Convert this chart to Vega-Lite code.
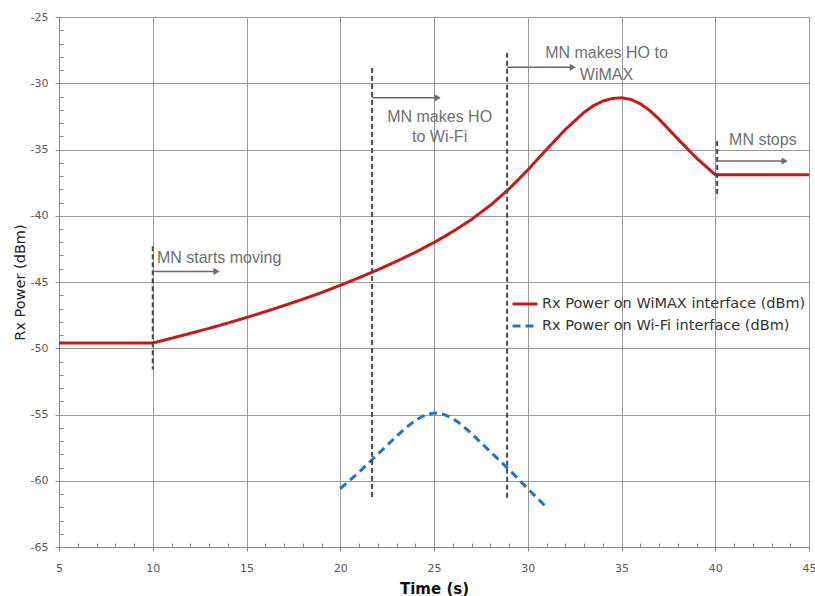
{
  "$schema": "https://vega.github.io/schema/vega-lite/v6.json",
  "width": 750,
  "height": 530,
  "autosize": {"type": "none"},
  "padding": {"left": 59, "top": 17, "right": 6, "bottom": 49},
  "background": "white",
  "config": {
    "view": {"stroke": "#999999", "strokeWidth": 1},
    "axis": {
      "domainColor": "#888888",
      "gridColor": "#9a9a9a",
      "tickColor": "#888888",
      "labelColor": "#595959",
      "labelFont": "DejaVu Sans",
      "labelFontSize": 11,
      "titleFont": "DejaVu Sans"
    },
    "legend": {"labelFont": "DejaVu Sans"}
  },
  "datasets": {
    "curves": [
      {"series": "Rx Power on WiMAX interface (dBm)", "t": 5, "v": -49.6},
      {"series": "Rx Power on WiMAX interface (dBm)", "t": 10, "v": -49.6},
      {"series": "Rx Power on WiMAX interface (dBm)", "t": 11, "v": -49.25},
      {"series": "Rx Power on WiMAX interface (dBm)", "t": 12, "v": -48.88},
      {"series": "Rx Power on WiMAX interface (dBm)", "t": 13, "v": -48.5},
      {"series": "Rx Power on WiMAX interface (dBm)", "t": 14, "v": -48.1},
      {"series": "Rx Power on WiMAX interface (dBm)", "t": 15, "v": -47.68},
      {"series": "Rx Power on WiMAX interface (dBm)", "t": 16, "v": -47.24},
      {"series": "Rx Power on WiMAX interface (dBm)", "t": 17, "v": -46.78},
      {"series": "Rx Power on WiMAX interface (dBm)", "t": 18, "v": -46.3},
      {"series": "Rx Power on WiMAX interface (dBm)", "t": 19, "v": -45.8},
      {"series": "Rx Power on WiMAX interface (dBm)", "t": 20, "v": -45.25},
      {"series": "Rx Power on WiMAX interface (dBm)", "t": 21, "v": -44.68},
      {"series": "Rx Power on WiMAX interface (dBm)", "t": 22, "v": -44.08},
      {"series": "Rx Power on WiMAX interface (dBm)", "t": 23, "v": -43.44},
      {"series": "Rx Power on WiMAX interface (dBm)", "t": 24, "v": -42.76},
      {"series": "Rx Power on WiMAX interface (dBm)", "t": 25, "v": -42.02},
      {"series": "Rx Power on WiMAX interface (dBm)", "t": 26, "v": -41.2},
      {"series": "Rx Power on WiMAX interface (dBm)", "t": 27, "v": -40.28},
      {"series": "Rx Power on WiMAX interface (dBm)", "t": 28, "v": -39.22},
      {"series": "Rx Power on WiMAX interface (dBm)", "t": 29, "v": -37.98},
      {"series": "Rx Power on WiMAX interface (dBm)", "t": 30, "v": -36.55},
      {"series": "Rx Power on WiMAX interface (dBm)", "t": 31, "v": -35.0},
      {"series": "Rx Power on WiMAX interface (dBm)", "t": 32, "v": -33.5},
      {"series": "Rx Power on WiMAX interface (dBm)", "t": 33, "v": -32.2},
      {"series": "Rx Power on WiMAX interface (dBm)", "t": 33.5, "v": -31.7},
      {"series": "Rx Power on WiMAX interface (dBm)", "t": 34, "v": -31.35},
      {"series": "Rx Power on WiMAX interface (dBm)", "t": 34.5, "v": -31.15},
      {"series": "Rx Power on WiMAX interface (dBm)", "t": 35, "v": -31.1},
      {"series": "Rx Power on WiMAX interface (dBm)", "t": 35.5, "v": -31.22},
      {"series": "Rx Power on WiMAX interface (dBm)", "t": 36, "v": -31.55},
      {"series": "Rx Power on WiMAX interface (dBm)", "t": 36.5, "v": -32.05},
      {"series": "Rx Power on WiMAX interface (dBm)", "t": 37, "v": -32.7},
      {"series": "Rx Power on WiMAX interface (dBm)", "t": 38, "v": -34.2},
      {"series": "Rx Power on WiMAX interface (dBm)", "t": 39, "v": -35.65},
      {"series": "Rx Power on WiMAX interface (dBm)", "t": 40, "v": -36.9},
      {"series": "Rx Power on WiMAX interface (dBm)", "t": 45, "v": -36.9},
      {"series": "Rx Power on Wi-Fi interface (dBm)", "t": 20, "v": -60.6},
      {"series": "Rx Power on Wi-Fi interface (dBm)", "t": 21, "v": -59.35},
      {"series": "Rx Power on Wi-Fi interface (dBm)", "t": 22, "v": -58.0},
      {"series": "Rx Power on Wi-Fi interface (dBm)", "t": 23, "v": -56.65},
      {"series": "Rx Power on Wi-Fi interface (dBm)", "t": 23.5, "v": -56.0},
      {"series": "Rx Power on Wi-Fi interface (dBm)", "t": 24, "v": -55.45},
      {"series": "Rx Power on Wi-Fi interface (dBm)", "t": 24.5, "v": -55.05},
      {"series": "Rx Power on Wi-Fi interface (dBm)", "t": 25, "v": -54.88},
      {"series": "Rx Power on Wi-Fi interface (dBm)", "t": 25.5, "v": -54.98},
      {"series": "Rx Power on Wi-Fi interface (dBm)", "t": 26, "v": -55.3},
      {"series": "Rx Power on Wi-Fi interface (dBm)", "t": 26.5, "v": -55.8},
      {"series": "Rx Power on Wi-Fi interface (dBm)", "t": 27, "v": -56.45},
      {"series": "Rx Power on Wi-Fi interface (dBm)", "t": 28, "v": -57.8},
      {"series": "Rx Power on Wi-Fi interface (dBm)", "t": 29, "v": -59.15},
      {"series": "Rx Power on Wi-Fi interface (dBm)", "t": 30, "v": -60.6},
      {"series": "Rx Power on Wi-Fi interface (dBm)", "t": 31, "v": -62.0}
    ],
    "vlines": [
      {"t": 10, "v": -42.3, "v2": -51.6},
      {"t": 21.7, "v": -28.85, "v2": -61.3},
      {"t": 28.9, "v": -27.7, "v2": -61.3},
      {"t": 40.1, "v": -34.35, "v2": -38.6}
    ],
    "arrows": [
      {"t": 10, "t2": 13.4, "v": -44.2},
      {"t": 21.7, "t2": 25.2, "v": -31.1},
      {"t": 28.9, "t2": 32.4, "v": -28.8},
      {"t": 40.1, "t2": 43.7, "v": -35.87}
    ],
    "labels": [
      {"t": 10.22, "v": -43.57, "text": "MN starts moving", "a": "left"},
      {"t": 25.3, "v": -32.9, "text": "MN makes HO", "a": "center"},
      {"t": 25.3, "v": -34.4, "text": "to Wi-Fi", "a": "center"},
      {"t": 34.2, "v": -28.1, "text": "MN makes HO to", "a": "center"},
      {"t": 34.2, "v": -29.75, "text": "WiMAX", "a": "center"},
      {"t": 42.54, "v": -34.66, "text": "MN stops", "a": "center"}
    ]
  },
  "encoding": {
    "x": {
      "field": "t",
      "type": "quantitative",
      "scale": {"domain": [5, 45], "nice": false, "zero": false},
      "axis": {
        "title": "Time (s)",
        "titleFontSize": 15,
        "titleFontWeight": "bold",
        "titleColor": "#111111",
        "titlePadding": 8,
        "values": [5,6,7,8,9,10,11,12,13,14,15,16,17,18,19,20,21,22,23,24,25,26,27,28,29,30,31,32,33,34,35,36,37,38,39,40,41,42,43,44,45],
        "labelExpr": "datum.value % 5 === 0 ? toString(datum.value) : ''",
        "labelPadding": 11,
        "gridOpacity": {"condition": {"test": "datum.value % 5 === 0", "value": 1}, "value": 0},
        "tickSize": {"condition": {"test": "datum.value % 5 === 0", "value": 4}, "value": -4},
        "labelFlush": false
      }
    },
    "y": {
      "field": "v",
      "type": "quantitative",
      "scale": {"domain": [-65, -25], "nice": false, "zero": false},
      "axis": {
        "title": "Rx Power (dBm)",
        "titleFontSize": 14.5,
        "titleFontWeight": "normal",
        "titleColor": "#222222",
        "titlePadding": 3,
        "values": [-65,-64,-63,-62,-61,-60,-59,-58,-57,-56,-55,-54,-53,-52,-51,-50,-49,-48,-47,-46,-45,-44,-43,-42,-41,-40,-39,-38,-37,-36,-35,-34,-33,-32,-31,-30,-29,-28,-27,-26,-25],
        "labelExpr": "datum.value % 5 === 0 ? toString(datum.value) : ''",
        "labelPadding": 7,
        "gridOpacity": {"condition": {"test": "datum.value % 5 === 0", "value": 1}, "value": 0},
        "tickSize": {"condition": {"test": "datum.value % 5 === 0", "value": 4}, "value": -4}
      }
    }
  },
  "layer": [
    {
      "data": {"name": "curves"},
      "mark": {"type": "line", "interpolate": "linear", "strokeWidth": 3},
      "encoding": {
        "color": {
          "field": "series",
          "type": "nominal",
          "scale": {
            "domain": ["Rx Power on WiMAX interface (dBm)", "Rx Power on Wi-Fi interface (dBm)"],
            "range": ["#c41a1a", "#1f74c4"]
          },
          "legend": {
            "title": null,
            "orient": "none",
            "legendX": 452,
            "legendY": 273,
            "symbolType": "stroke",
            "symbolSize": 625,
            "symbolStrokeWidth": 3,
            "labelFontSize": 14.5,
            "labelLimit": 0,
            "labelColor": "#333333",
            "labelOffset": 3,
            "rowPadding": 1,
            "padding": 0
          }
        },
        "strokeDash": {
          "field": "series",
          "type": "nominal",
          "scale": {
            "domain": ["Rx Power on WiMAX interface (dBm)", "Rx Power on Wi-Fi interface (dBm)"],
            "range": [[1, 0], [8, 5]]
          },
          "legend": null
        }
      }
    },
    {
      "data": {"name": "vlines"},
      "mark": {"type": "rule", "color": "#4a4a4a", "strokeWidth": 2, "strokeDash": [5, 3]},
      "encoding": {"y2": {"field": "v2"}}
    },
    {
      "data": {"name": "arrows"},
      "mark": {"type": "rule", "color": "#6a6a6a", "strokeWidth": 1.5},
      "encoding": {"x2": {"field": "t2"}}
    },
    {
      "data": {"name": "arrows"},
      "mark": {"type": "point", "shape": "triangle-right", "filled": true, "color": "#6a6a6a", "size": 50, "opacity": 1},
      "encoding": {"x": {"field": "t2", "type": "quantitative"}}
    },
    {
      "data": {"name": "labels"},
      "transform": [{"filter": "datum.a === 'left'"}],
      "mark": {"type": "text", "align": "left", "baseline": "alphabetic", "font": "Liberation Sans", "fontSize": 16, "color": "#6f6f6f"},
      "encoding": {"text": {"field": "text"}}
    },
    {
      "data": {"name": "labels"},
      "transform": [{"filter": "datum.a === 'center'"}],
      "mark": {"type": "text", "align": "center", "baseline": "alphabetic", "font": "Liberation Sans", "fontSize": 16, "color": "#6f6f6f"},
      "encoding": {"text": {"field": "text"}}
    }
  ]
}
